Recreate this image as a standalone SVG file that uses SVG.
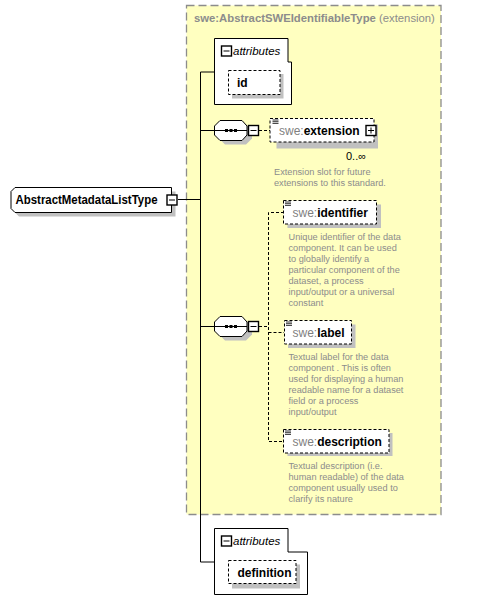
<svg xmlns="http://www.w3.org/2000/svg" width="484" height="613" viewBox="0 0 484 613">
<style>
.bg{fill:#ffffff}
.ext{fill:#ffffc0;stroke:#8c8c8c;stroke-width:1.3;stroke-dasharray:8,4}
.line{stroke:#000;stroke-width:1;fill:none}
.dline{stroke:#000;stroke-width:1;fill:none;stroke-dasharray:3,2}
.shadow{fill:#c0c0c0}
.box{fill:#fff;stroke:#000;stroke-width:1}
.dbox{fill:#fff;stroke:#000;stroke-width:1;stroke-dasharray:3,2}
.title{font-family:"Liberation Sans",Arial,sans-serif;font-size:11.3px;fill:#8c8c8c}
.name{font-family:"Liberation Sans",Arial,sans-serif;font-size:12px;font-weight:bold;fill:#000}
.pfx{font-weight:normal;fill:#808080}
.attr{font-family:"Liberation Sans",Arial,sans-serif;font-size:11.5px;font-style:italic;fill:#000}
.doc{font-family:"Liberation Sans",Arial,sans-serif;font-size:9.2px;fill:#8c8c8c}
.occ{font-family:"Liberation Sans",Arial,sans-serif;font-size:11px;fill:#000}
</style>
<defs>
<g id="minus"><rect x="0.5" y="0.5" width="10" height="10" fill="#fff" stroke="#000" stroke-width="1.4"/><line x1="2.5" y1="5.5" x2="8.5" y2="5.5" stroke="#000" stroke-width="1"/></g>
<g id="plus"><rect x="0.5" y="0.5" width="10" height="10" fill="#fff" stroke="#000" stroke-width="1.4"/><line x1="2.5" y1="5.5" x2="8.5" y2="5.5" stroke="#000" stroke-width="1"/><line x1="5.5" y1="2.5" x2="5.5" y2="8.5" stroke="#000" stroke-width="1"/></g>
<g id="seq">
<polygon points="11,4.5 32,4.5 38,10.5 38,18.5 32,24.5 11,24.5 5,18.5 5,10.5" class="shadow"/>
<polygon points="6,0.5 28,0.5 33,6 33,15 28,20.5 6,20.5 0.5,15 0.5,6" fill="#fff" stroke="#000" stroke-width="1"/>
<line x1="1" y1="10.5" x2="33" y2="10.5" stroke="#000" stroke-width="1"/>
<rect x="11" y="9" width="3" height="3" fill="#000"/><rect x="15.5" y="9" width="3" height="3" fill="#000"/><rect x="20" y="9" width="3" height="3" fill="#000"/>
</g>
<g id="lst"><line x1="0" y1="0.5" x2="6" y2="0.5" stroke="#000" stroke-width="0.8"/><line x1="0" y1="2.2" x2="6" y2="2.2" stroke="#000" stroke-width="0.8"/><line x1="0" y1="3.9" x2="6" y2="3.9" stroke="#000" stroke-width="0.8"/></g>
</defs>
<rect class="bg" x="0" y="0" width="484" height="613"/>

<g id="extension-region">
<rect class="ext" x="186.5" y="5.5" width="254.5" height="509"/>
<text class="title" x="194" y="22"><tspan font-weight="bold">swe:AbstractSWEIdentifiableType</tspan> (extension)</text>
</g>

<g id="connectors">
<polyline class="line" points="214,72 200.5,72 200.5,562 214,562"/>
<line class="line" x1="178" y1="199.5" x2="200.5" y2="199.5"/>
<line class="line" x1="200.5" y1="130.5" x2="214" y2="130.5"/>
<line class="line" x1="200.5" y1="326.5" x2="214" y2="326.5"/>
<line class="dline" x1="259" y1="130.5" x2="270" y2="130.5"/>
<line class="dline" x1="259" y1="326.5" x2="268.5" y2="326.5"/>
<polyline class="dline" points="284,212.5 268.5,212.5 268.5,441.5 284,441.5"/>
<line class="dline" x1="268.5" y1="332.5" x2="284" y2="332.5"/>
</g>

<g id="AbstractMetadataListType">
<polygon class="shadow" points="19,191.5 175.5,191.5 175.5,216.5 19,216.5 15,212.5 15,195.5"/>
<polygon class="box" points="15,187.5 171.5,187.5 171.5,212.5 15,212.5 11,208.5 11,191.5"/>
<text class="name" x="15.5" y="203.5" font-size="11.4px" textLength="142" lengthAdjust="spacingAndGlyphs">AbstractMetadataListType</text>
<use href="#minus" x="166.5" y="194.5"/>
</g>

<g id="attributes1">
<polygon class="box" points="214.5,38.5 288,38.5 288,62 291.5,62 291.5,104.5 214.5,104.5"/>
<use href="#minus" x="221" y="45.5"/>
<text class="attr" x="233" y="55">attributes</text>
</g>
<g id="attr-id">
<rect class="shadow" x="232" y="74" width="51.5" height="24.5"/>
<rect class="dbox" x="228.5" y="70.5" width="51.5" height="24"/>
<text class="name" x="237" y="87" font-size="11.5px">id</text>
</g>

<g id="sequence1">
<use href="#seq" x="214" y="120"/>
<use href="#minus" x="248" y="125"/>
</g>

<g id="swe-extension">
<rect class="shadow" x="276.5" y="124.5" width="101.5" height="24"/>
<rect class="dbox" x="270" y="118.5" width="104" height="23.5"/>
<use href="#lst" x="272.5" y="119.5"/>
<text class="name" x="279" y="134.5"><tspan class="pfx">swe:</tspan>extension</text>
<use href="#plus" x="365.5" y="125"/>
<text class="occ" x="346" y="160">0..∞</text>
<text class="doc" x="274" y="175">Extension slot for future</text>
<text class="doc" x="274" y="186">extensions to this standard.</text>
</g>

<g id="sequence2">
<use href="#seq" x="214" y="316"/>
<use href="#minus" x="248" y="321"/>
</g>

<g id="swe-identifier">
<rect class="shadow" x="287.5" y="204.5" width="93.5" height="23.5"/>
<rect class="dbox" x="283.5" y="200.5" width="93" height="23.5"/>
<use href="#lst" x="285" y="201.5"/>
<text class="name" x="292.5" y="216.5"><tspan class="pfx">swe:</tspan>identifier</text>
<text class="doc" x="288.5" y="240">Unique identifier of the data</text>
<text class="doc" x="288.5" y="251">component. It can be used</text>
<text class="doc" x="288.5" y="262">to globally identify a</text>
<text class="doc" x="288.5" y="273">particular component of the</text>
<text class="doc" x="288.5" y="284">dataset, a process</text>
<text class="doc" x="288.5" y="295">input/output or a universal</text>
<text class="doc" x="288.5" y="306">constant</text>
</g>

<g id="swe-label">
<rect class="shadow" x="288" y="324.5" width="67.5" height="23.5"/>
<rect class="dbox" x="284.5" y="320.5" width="67" height="23.5"/>
<use href="#lst" x="286" y="321.5"/>
<text class="name" x="292.5" y="336.5"><tspan class="pfx">swe:</tspan>label</text>
<text class="doc" x="288.5" y="359.5">Textual label for the data</text>
<text class="doc" x="288.5" y="370.5">component . This is often</text>
<text class="doc" x="288.5" y="381.5">used for displaying a human</text>
<text class="doc" x="288.5" y="392.5">readable name for a dataset</text>
<text class="doc" x="288.5" y="403.5">field or a process</text>
<text class="doc" x="288.5" y="414.5">input/output</text>
</g>

<g id="swe-description">
<rect class="shadow" x="287.5" y="433" width="105" height="23"/>
<rect class="dbox" x="283.5" y="429.5" width="105.5" height="23.5"/>
<use href="#lst" x="285" y="430.5"/>
<text class="name" x="292.5" y="445.5"><tspan class="pfx">swe:</tspan>description</text>
<text class="doc" x="288.5" y="468.5">Textual description (i.e.</text>
<text class="doc" x="288.5" y="479.5">human readable) of the data</text>
<text class="doc" x="288.5" y="490.5">component usually used to</text>
<text class="doc" x="288.5" y="501.5">clarify its nature</text>
</g>

<g id="attributes2">
<polygon class="box" points="214.5,528.5 288,528.5 288,552 307.5,552 307.5,594.5 214.5,594.5"/>
<use href="#minus" x="221" y="535.5"/>
<text class="attr" x="233" y="545">attributes</text>
</g>
<g id="attr-definition">
<rect class="shadow" x="232" y="564.5" width="68" height="24"/>
<rect class="dbox" x="228.5" y="560.5" width="67.5" height="23"/>
<text class="name" x="237.5" y="576.5" font-size="11.5px">definition</text>
</g>
</svg>
